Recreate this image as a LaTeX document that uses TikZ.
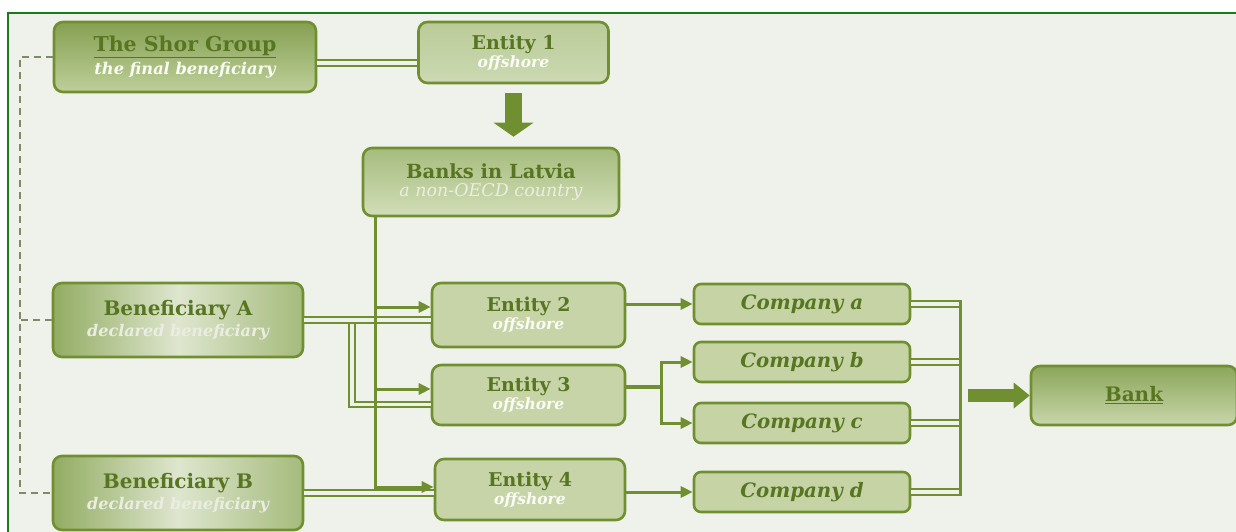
\documentclass[tikz,border=0pt]{standalone}
\usepackage{fontspec}
\setmainfont{DejaVu Serif}
\usetikzlibrary{arrows.meta,calc}
\definecolor{bord}{RGB}{112,143,48}
\definecolor{ttl}{RGB}{88,118,34}
\definecolor{bg}{RGB}{239,242,234}
\definecolor{frm}{RGB}{30,120,30}
\definecolor{dsh}{RGB}{125,140,100}
\definecolor{subw}{RGB}{250,252,246}
\definecolor{decl}{RGB}{234,238,226}
\newcommand{\bt}[2]{\textcolor{ttl}{\fontsize{#1}{#1}\selectfont\bfseries #2}}
\newcommand{\st}[2]{\textcolor{subw}{\fontsize{#1}{#1}\selectfont\itshape #2}}
\begin{document}
\begin{tikzpicture}[x=1pt,y=-1pt,
  box/.style={draw=bord, line width=2.6pt, rounded corners=9pt, inner sep=0pt, align=center},
  conn/.style={draw=bord, line width=3pt},
  arr/.style={conn, -{Triangle[length=12pt,width=11pt]}},
  dbl/.style={draw=bord, double=bg, double distance=3.5pt, line width=2.1pt},
  dashln/.style={draw=dsh, line width=1.8pt, dash pattern=on 7pt off 5pt},
  bigdown/.style={draw=bord, line width=17pt, -{Triangle[width=40pt,length=14pt,line width=0pt]}},
  bigright/.style={draw=bord, line width=13pt, -{Triangle[width=26pt,length=16pt,line width=0pt]}},
  benbox/.style={box, minimum width=250pt, minimum height=74pt, left color={rgb,255:red,146;green,172;blue,98}, right color={rgb,255:red,165;green,187;blue,124}, middle color={rgb,255:red,222;green,230;blue,206}},
  entbox/.style={box, fill={rgb,255:red,199;green,212;blue,168}},
  cobox/.style={box, rounded corners=7pt, minimum width=216pt, minimum height=40pt, fill={rgb,255:red,197;green,211;blue,165}}
]
\useasboundingbox (0,0) rectangle (1236,532);
\fill[white] (0,0) rectangle (1236,532);
\fill[bg] (8,13) rectangle (1240,540);
\draw[frm, line width=1.6pt] (8,540) -- (8,13) -- (1240,13);

% nodes
\node[box, minimum width=262pt, minimum height=70pt, shading angle=30, top color={rgb,255:red,134;green,160;blue,82}, bottom color={rgb,255:red,190;green,207;blue,154}] (shor) at (185,57)
  {\bt{20.5}{\underline{The Shor Group}}\\[3pt]\st{16.2}{\bfseries the final beneficiary}};
\node[box, minimum width=190pt, minimum height=61pt, top color={rgb,255:red,186;green,203;blue,152}, bottom color={rgb,255:red,204;green,217;blue,178}] (e1) at (513.5,52.5)
  {\bt{19}{Entity 1}\\[1pt]\st{15.5}{\bfseries offshore}};
\node[box, minimum width=256pt, minimum height=68pt, top color={rgb,255:red,166;green,188;blue,126}, bottom color={rgb,255:red,210;green,222;blue,184}] (banks) at (491,182)
  {\bt{19.5}{Banks in Latvia}\\[3pt]{\color{white!85!bord}\fontsize{17.5}{17.5}\selectfont\itshape a non-OECD country}};
\node[benbox] (bena) at (178,320)
  {\bt{20}{Beneficiary A}\\[3pt]{\color{decl}\fontsize{16}{16}\selectfont\itshape\bfseries declared beneficiary}};
\node[benbox] (benb) at (178,493)
  {\bt{20}{Beneficiary B}\\[3pt]{\color{decl}\fontsize{16}{16}\selectfont\itshape\bfseries declared beneficiary}};
\node[entbox, minimum width=193pt, minimum height=64pt] (e2) at (528.5,315)
  {\bt{19}{Entity 2}\\[1pt]\st{15.5}{\bfseries offshore}};
\node[entbox, minimum width=193pt, minimum height=60pt] (e3) at (528.5,395)
  {\bt{19}{Entity 3}\\[1pt]\st{15.5}{\bfseries offshore}};
\node[entbox, minimum width=190pt, minimum height=61pt] (e4) at (530,489.5)
  {\bt{19}{Entity 4}\\[1pt]\st{15.5}{\bfseries offshore}};
\node[cobox] (ca) at (802,304) {\bt{19.8}{\itshape Company a}};
\node[cobox] (cb) at (802,362) {\bt{19.8}{\itshape Company b}};
\node[cobox] (cc) at (802,423) {\bt{19.8}{\itshape Company c}};
\node[cobox] (cd) at (802,492) {\bt{19.8}{\itshape Company d}};
\node[box, minimum width=206pt, minimum height=59pt, top color={rgb,255:red,140;green,166;blue,90}, bottom color={rgb,255:red,200;green,214;blue,170}] (bank) at (1134,395.5)
  {\bt{20}{\underline{Bank}}};

% coordinates
\coordinate (dl) at (20,57);
\coordinate (brA) at (352,320);
\coordinate (vx) at (375,216);
\coordinate (j3) at (661,387);
\coordinate (bus) at (960,300);
\coordinate (ba) at (968,395.5);
\coordinate (e2a) at ([yshift=8pt]e2.west);
\coordinate (e3a) at ([yshift=6pt]e3.west);
\coordinate (e4a) at ([yshift=2.5pt]e4.west);
\coordinate (e3d) at ([yshift=-9.5pt]e3.west);
\coordinate (s1) at ([yshift=-6pt]shor.east);
\coordinate (e1s) at ([yshift=-9pt]e1.south);
\coordinate (bnt) at ([yshift=10pt]banks.north);

% dashed ownership line
\draw[dashln] (shor.west) -- (dl) |- (benb.west);
\draw[dashln] (bena.west) -- (dl |- bena.west);

% double lines
\draw[dbl] (s1) -- (s1 -| e1.west);
\draw[dbl] (brA) |- (e3d);
\draw[dbl] (bena.east) -- (bena.east -| e2.west);
\draw[dbl] (benb.east) -- (benb.east -| e4.west);

% Banks vertical distribution
\draw[arr] (vx) |- (e4a);
\draw[arr] (vx |- e2a) -- (e2a);
\draw[arr] (vx |- e3a) -- (e3a);

% big arrows
\draw[bigdown] (e1s) -- (e1s |- bnt);
\draw[bigright] (ba) -- (bank.west);

% entity to company
\draw[arr] (e2.east |- ca.west) -- (ca.west);
\draw[conn, line width=4.5pt] (e3.east |- j3) -- (j3);
\draw[arr] (j3) |- (cb.west);
\draw[arr] (j3) |- (cc.west);
\draw[arr] (e4.east |- cd.west) -- (cd.west);

% companies to bus
\draw[dbl] (ca.east) -- (ca.east -| bus);
\draw[dbl] (cb.east) -- (cb.east -| bus);
\draw[dbl] (cc.east) -- (cc.east -| bus);
\draw[dbl] (cd.east) -- (cd.east -| bus);
\coordinate (bt) at ([yshift=3.8pt]bus |- ca.east);
\coordinate (bb) at ([yshift=-3.8pt]bus |- cd.east);
\draw[conn] (bt) -- (bb);
\end{tikzpicture}
\end{document}
